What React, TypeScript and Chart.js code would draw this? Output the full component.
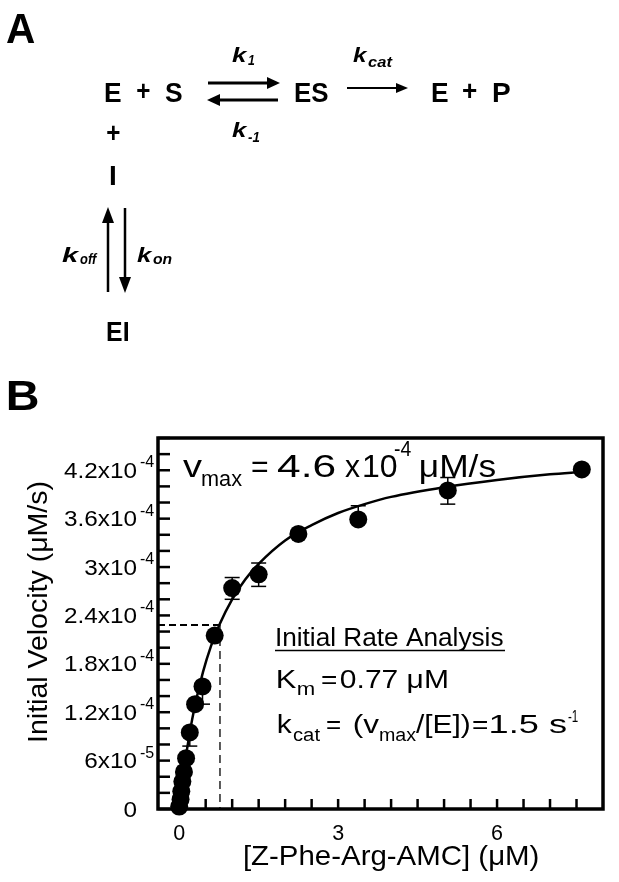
import React, { useEffect, useRef } from 'react';
import { Chart, registerables } from 'chart.js';

Chart.register(...registerables);

// ---- Data ----
const substrate = [7.6, 5.07, 3.38, 2.25, 1.5, 1.0, 0.67, 0.44, 0.3, 0.2, 0.13, 0.09, 0.06, 0.04, 0.026, 0];
const velocity = [4.21e-4, 3.95e-4, 3.59e-4, 3.41e-4, 2.91e-4, 2.74e-4, 2.15e-4, 1.52e-4, 1.3e-4, 0.95e-4, 0.63e-4, 0.46e-4, 0.34e-4, 0.22e-4, 0.12e-4, 0.03e-4];
const errPlus = [0, 1.6e-5, 1.7e-5, 0, 1.4e-5, 1.3e-5, 0, 0, 0, 0, 0, 0, 0, 0, 0, 0];
const errMinus = [0, 1.7e-5, 0, 0, 1.5e-5, 1.4e-5, 0, 2.2e-5, 0, 1.7e-5, 0, 0, 0, 0, 0, 0];

const curveX = [0, 0.05, 0.1, 0.2, 0.3, 0.45, 0.6, 0.77, 1.0, 1.25, 1.5, 2.0, 2.5, 3.0, 3.5, 4.0, 5.0, 6.0, 7.0, 7.6];
const curveY = [0, 0.28e-4, 0.53e-4, 0.95e-4, 1.29e-4, 1.7e-4, 2.02e-4, 2.3e-4, 2.6e-4, 2.85e-4, 3.04e-4, 3.33e-4, 3.52e-4, 3.67e-4, 3.78e-4, 3.87e-4, 3.99e-4, 4.08e-4, 4.15e-4, 4.18e-4];

const kmX = [-0.4, 0.77];
const kmY = [2.28e-4, 2.28e-4];
const kmVertX = [0.77, 0.77];
const kmVertY = [2.28e-4, 0];

const yLabelValues = [0, 6e-5, 1.2e-4, 1.8e-4, 2.4e-4, 3e-4, 3.6e-4, 4.2e-4];
const yLabelBase = ['0', '6x10', '1.2x10', '1.8x10', '2.4x10', '3x10', '3.6x10', '4.2x10'];
const yLabelExp = ['', '-5', '-4', '-4', '-4', '-4', '-4', '-4'];
const xLabelValues = [0, 3, 6];
const xLabelText = ['0', '3', '6'];

const X_MIN = -0.4, X_MAX = 8, Y_MIN = 0, Y_MAX = 4.6e-4;
const Y_MINOR = 2e-5, Y_MINOR_COUNT = 23;
const X_MINOR = 0.5, X_MINOR_COUNT = 15;

const FF = '"Liberation Sans", Arial, Helvetica, sans-serif';

function setFont(ctx: CanvasRenderingContext2D, size: number, style: string) {
  ctx.font = `${style} ${size}px ${FF}`;
  ctx.textAlign = 'left';
  ctx.textBaseline = 'alphabetic';
}

// draw text with ink left edge at `left`, optionally horizontally fitted to `right`
function put(ctx: CanvasRenderingContext2D, s: string, left: number, right: number | null, base: number, size: number, style = '') {
  setFont(ctx, size, style);
  const m = ctx.measureText(s);
  const ink = m.actualBoundingBoxLeft + m.actualBoundingBoxRight;
  const sx = right != null && ink > 0 ? (right - left) / ink : 1;
  ctx.save();
  ctx.translate(left + m.actualBoundingBoxLeft * sx, base);
  ctx.scale(sx, 1);
  ctx.fillText(s, 0, 0);
  ctx.restore();
}

function arrow(ctx: CanvasRenderingContext2D, x1: number, y1: number, x2: number, y2: number, lw: number, hl: number, hw: number) {
  const ang = Math.atan2(y2 - y1, x2 - x1);
  const bx = x2 - Math.cos(ang) * hl, by = y2 - Math.sin(ang) * hl;
  ctx.lineWidth = lw;
  ctx.beginPath();
  ctx.moveTo(x1, y1);
  ctx.lineTo(bx + Math.cos(ang) * 2, by + Math.sin(ang) * 2);
  ctx.stroke();
  ctx.beginPath();
  ctx.moveTo(x2, y2);
  ctx.lineTo(bx - Math.sin(ang) * hw, by + Math.cos(ang) * hw);
  ctx.lineTo(bx + Math.sin(ang) * hw, by - Math.cos(ang) * hw);
  ctx.closePath();
  ctx.fill();
}

function line(ctx: CanvasRenderingContext2D, x1: number, y1: number, x2: number, y2: number, lw: number) {
  ctx.lineWidth = lw;
  ctx.beginPath();
  ctx.moveTo(x1, y1);
  ctx.lineTo(x2, y2);
  ctx.stroke();
}

const decor = {
  id: 'decor',
  afterDraw(chart: any) {
    const ctx: CanvasRenderingContext2D = chart.ctx;
    const { left, right, top, bottom } = chart.chartArea;
    const xs = chart.scales.x, ys = chart.scales.y;
    ctx.save();
    ctx.fillStyle = '#000';
    ctx.strokeStyle = '#000';
    ctx.lineCap = 'butt';

    // error bars
    substrate.forEach((sv, i) => {
      const px = xs.getPixelForValue(sv);
      const py = ys.getPixelForValue(velocity[i]);
      if (errPlus[i] > 0) {
        const t = ys.getPixelForValue(velocity[i] + errPlus[i]);
        line(ctx, px, py, px, t, 1.5);
        line(ctx, px - 7.5, t, px + 7.5, t, 1.5);
      }
      if (errMinus[i] > 0) {
        const b = ys.getPixelForValue(velocity[i] - errMinus[i]);
        line(ctx, px, py, px, b, 1.5);
        line(ctx, px - 7.5, b, px + 7.5, b, 1.5);
      }
    });

    // frame
    ctx.lineWidth = 3.5;
    ctx.strokeRect(left, top, right - left, bottom - top);

    // y ticks (inward)
    for (let i = 0; i <= Y_MINOR_COUNT; i++) {
      const py = ys.getPixelForValue(i * Y_MINOR);
      line(ctx, left, py, left + 12, py, 2.5);
    }
    // x ticks (inward)
    for (let i = 0; i <= X_MINOR_COUNT; i++) {
      const px = xs.getPixelForValue(i * X_MINOR);
      line(ctx, px, bottom, px, bottom - 10, 2.5);
    }

    // y tick labels
    yLabelValues.forEach((v, i) => {
      const py = ys.getPixelForValue(v);
      setFont(ctx, 21.5, '');
      const m = ctx.measureText(yLabelBase[i]);
      const ink = m.actualBoundingBoxLeft + m.actualBoundingBoxRight;
      const w = ink * 1.13;
      put(ctx, yLabelBase[i], 137 - w, 137, py + 7.5, 21.5);
      if (yLabelExp[i]) put(ctx, yLabelExp[i], 140, null, py - 3, 16);
    });

    // x tick labels
    xLabelValues.forEach((v, i) => {
      const px = xs.getPixelForValue(v);
      setFont(ctx, 21.5, '');
      ctx.textAlign = 'center';
      ctx.fillText(xLabelText[i], px, 840);
    });

    // axis titles
    put(ctx, '[Z-Phe-Arg-AMC] (μM)', 245, 538, 865, 28);
    ctx.save();
    ctx.translate(47, 612);
    ctx.rotate(-Math.PI / 2);
    setFont(ctx, 28.5, '');
    ctx.textAlign = 'center';
    ctx.fillText('Initial Velocity (μM/s)', 0, 0);
    ctx.restore();

    // vmax annotation
    put(ctx, 'v', 183, 202, 477, 32);
    put(ctx, 'max', 202, 242, 486, 22);
    put(ctx, '=', 252, 268, 477, 32);
    put(ctx, '4.6', 277, 335, 477, 32);
    put(ctx, 'x', 345, 360, 477, 32);
    put(ctx, '10', 364, null, 477, 32);
    put(ctx, '-4', 394, 411, 456, 22);
    put(ctx, 'μM/s', 421, 495, 477, 32);

    // Initial Rate Analysis block
    put(ctx, 'Initial Rate Analysis', 277, 503, 646, 25);
    line(ctx, 275, 650.5, 505, 650.5, 1.5);
    put(ctx, 'K', 278, 297, 688, 26);
    put(ctx, 'm', 298, 314, 695, 18);
    put(ctx, '=', 322, 336, 688, 26);
    put(ctx, '0.77 μM', 341, 447, 688, 26);
    put(ctx, 'k', 278, 293, 733, 26);
    put(ctx, 'cat', 293, 320, 741, 18);
    put(ctx, '=', 327, 340, 733, 26);
    put(ctx, '(v', 354, 379, 733, 26);
    put(ctx, 'max', 380, 416, 741, 18);
    put(ctx, '/[E])', 416, 470, 733, 26);
    put(ctx, '=', 473, 487, 733, 26);
    put(ctx, '1.5 s', 490, 567, 733, 26);
    put(ctx, '-1', 568, 578, 722, 17);

    // ---- Panel A ----
    put(ctx, 'A', 7, 35, 43, 42, 'bold');
    put(ctx, 'B', 8, 38, 410, 42, 'bold');
    put(ctx, 'E', 105, 121, 102, 28, 'bold');
    put(ctx, '+', 137, 150, 100, 28, 'bold');
    put(ctx, 'S', 165, 182, 102, 28, 'bold');
    put(ctx, 'ES', 295, 328, 102, 28, 'bold');
    put(ctx, 'E', 432, 448, 102, 28, 'bold');
    put(ctx, '+', 463, 477, 100, 28, 'bold');
    put(ctx, 'P', 493, 510, 102, 28, 'bold');
    put(ctx, '+', 107, 120, 142, 28, 'bold');
    put(ctx, 'I', 110, 115, 185, 28, 'bold');
    put(ctx, 'EI', 107, 128, 341, 28, 'bold');

    put(ctx, 'k', 232, 248, 62, 21, 'italic bold');
    put(ctx, '1', 248, 255, 65, 14, 'italic bold');
    put(ctx, 'k', 353, 368, 62, 21, 'italic bold');
    put(ctx, 'cat', 368, 393, 67, 15, 'italic bold');
    put(ctx, 'k', 232, 248, 137, 21, 'italic bold');
    put(ctx, '-1', 248, 260, 142, 14, 'italic bold');
    put(ctx, 'k', 62, 80, 262, 21, 'italic bold');
    put(ctx, 'off', 80, 98, 264, 15, 'italic bold');
    put(ctx, 'k', 137, 153, 262, 21, 'italic bold');
    put(ctx, 'on', 153, 172, 264, 15, 'italic bold');

    arrow(ctx, 208, 83, 280, 83, 3, 13, 6);
    arrow(ctx, 278, 100, 207, 100, 3, 13, 6);
    arrow(ctx, 347, 88, 408, 88, 2, 12, 5);
    arrow(ctx, 108, 292, 108, 207, 2.5, 16, 6);
    arrow(ctx, 125, 208, 125, 293, 2.5, 16, 6);

    ctx.restore();
  },
};

export default function App() {
  const ref = useRef<HTMLCanvasElement>(null);
  useEffect(() => {
    if (!ref.current) return;
    const chart = new Chart(ref.current, {
      type: 'scatter',
      data: {
        datasets: [
          {
            label: 'measured',
            data: substrate.map((x, i) => ({ x, y: velocity[i] })),
            pointRadius: 9,
            pointHoverRadius: 9,
            backgroundColor: '#000',
            borderColor: '#000',
            borderWidth: 0,
            showLine: false,
            clip: false as any,
          },
          {
            label: 'fit',
            data: curveX.map((x, i) => ({ x, y: curveY[i] })),
            showLine: true,
            pointRadius: 0,
            borderColor: '#000',
            borderWidth: 2.5,
            cubicInterpolationMode: 'monotone',
            fill: false,
          },
          {
            label: 'half vmax',
            data: kmX.map((x, i) => ({ x, y: kmY[i] })),
            showLine: true,
            pointRadius: 0,
            borderColor: '#000',
            borderWidth: 2,
            borderDash: [7, 4],
            fill: false,
          },
          {
            label: 'Km',
            data: kmVertX.map((x, i) => ({ x, y: kmVertY[i] })),
            showLine: true,
            pointRadius: 0,
            borderColor: '#000',
            borderWidth: 1.3,
            borderDash: [8, 5],
            fill: false,
          },
        ],
      },
      options: {
        responsive: false,
        animation: false,
        devicePixelRatio: 1,
        layout: { padding: { left: 158, top: 438, right: 16, bottom: 73 } },
        plugins: { legend: { display: false }, tooltip: { enabled: false } },
        scales: {
          x: { type: 'linear', min: X_MIN, max: X_MAX, display: false },
          y: { type: 'linear', min: Y_MIN, max: Y_MAX, display: false },
        },
      } as any,
      plugins: [decor],
    });
    return () => chart.destroy();
  }, []);
  return (
    <div style={{ position: 'absolute', left: 0, top: 0, width: 619, height: 882, background: '#fff' }}>
      <canvas ref={ref} width={619} height={882} style={{ display: 'block' }} />
    </div>
  );
}
